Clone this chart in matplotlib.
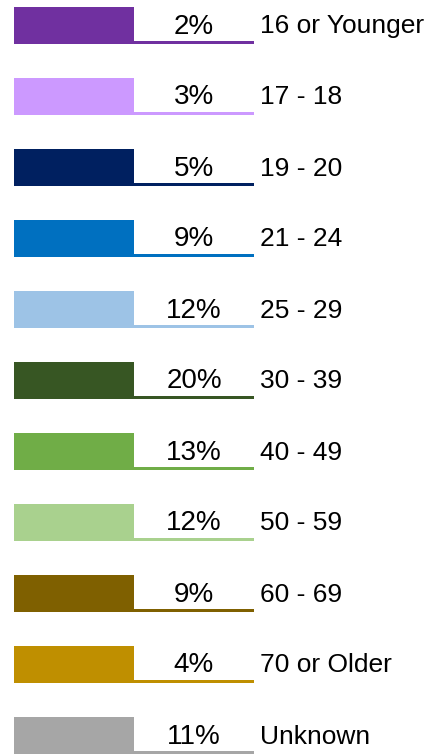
import matplotlib
matplotlib.use("Agg")
import matplotlib.pyplot as plt
import numpy as np

categories = ["16 or Younger", "17 - 18", "19 - 20", "21 - 24", "25 - 29", "30 - 39",
              "40 - 49", "50 - 59", "60 - 69", "70 or Older", "Unknown"]
percents = [2, 3, 5, 9, 12, 20, 13, 12, 9, 4, 11]
colors = ["#7030A0", "#CC99FF", "#002060", "#0070C0", "#9DC3E6", "#375623",
          "#70AD47", "#A9D18E", "#7F6000", "#BF8F00", "#A6A6A6"]

plt.rcParams['font.family'] = ['Liberation Sans', 'DejaVu Sans']

fig = plt.figure(figsize=(4.41, 7.55), dpi=100)
ax = fig.add_axes([0, 0, 1, 1])
ax.set_xlim(0, 441)
ax.set_ylim(755, 0)
ax.axis('off')

n = len(categories)
tops = 7 + 71 * np.arange(n)
sw_h = 37
centers = tops + sw_h / 2

ax.barh(centers, [120] * n, left=14, height=sw_h, color=colors)
ax.barh(tops + sw_h - 1.5, [120] * n, left=134, height=3, color=colors)

for t, p, lab in zip(tops, percents, categories):
    ax.text(194, t + 26.5, f"{p}%", ha='center', va='baseline', fontsize=20, color='black')
    ax.text(260, t + 26.5, lab, ha='left', va='baseline', fontsize=19, color='black')

fig.savefig("out.png", dpi=100)
